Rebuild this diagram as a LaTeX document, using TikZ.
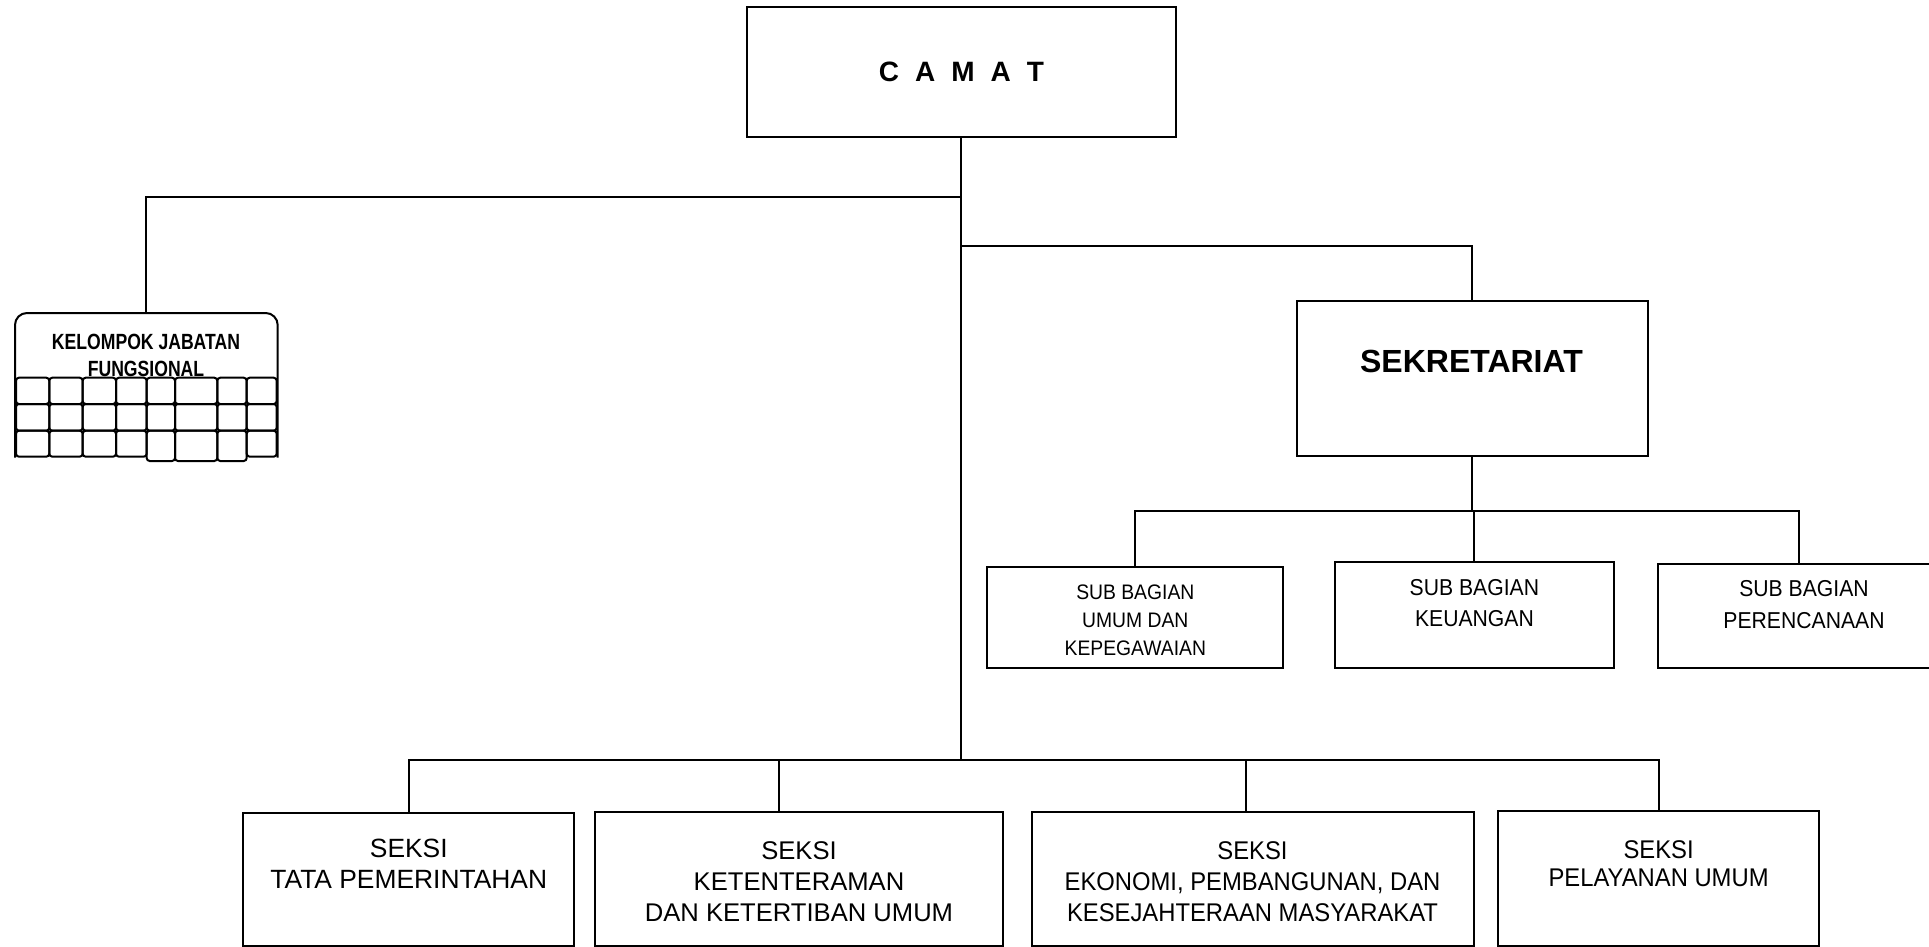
\documentclass[tikz,border=0pt]{standalone}
\usepackage{fontspec}
\setmainfont{Liberation Sans}
\newfontfamily\narrowfont[FakeStretch=0.93]{Liberation Sans}
\newfontfamily\subfont[FakeStretch=0.92]{Liberation Sans}
\newfontfamily\kjffont[FakeStretch=0.8]{Liberation Sans}
\usetikzlibrary{fit,calc}
\begin{document}
\begin{tikzpicture}[x=0.5pt,y=-0.5pt,
  line width=1pt,
  box/.style={draw, rectangle, inner sep=0pt, line width=1pt},
  txt/.style={align=center, inner sep=0pt},
  seksitxt/.style={txt, font=\fontsize{12.8}{15.5}\selectfont},
  seksinarrow/.style={txt, font=\narrowfont\fontsize{12.8}{15.5}\selectfont},
  subtxt/.style={txt, font=\subfont\fontsize{10.5}{14}\selectfont},
  subbig/.style={txt, font=\subfont\fontsize{11.5}{15.5}\selectfont},
  cell/.style={draw, rounded corners=1.5pt, line width=1pt}]

\useasboundingbox (0,0) rectangle (1929,947);
\clip (0,0) rectangle (1929,947);

% ---- CAMAT ----
\node[box, fit={(746.7,7) (1176,137)}] (camat) {};
\node[font=\bfseries\fontsize{14}{17}\selectfont, inner sep=0pt] (camatT) at (961.5,71.5)
  {C\hspace{8pt}A\hspace{8pt}M\hspace{8pt}A\hspace{8pt}T};

% ---- SEKRETARIAT ----
\node[box, fit={(1296.7,300.7) (1648,456)}] (sek) {};
\node[font=\bfseries\fontsize{16}{19}\selectfont, inner sep=0pt] (sekT) at (1471.5,361.7) {SEKRETARIAT};

% ---- KELOMPOK JABATAN FUNGSIONAL ----
\node[inner sep=0pt, fit={(16,314) (276.7,456.7)}] (kjf) {};
\draw[rounded corners=6pt] (kjf.south west) -- (kjf.north west) -- (kjf.north east) -- (kjf.south east);
\node[txt, font=\kjffont\bfseries\fontsize{11}{13.5}\selectfont] (kjfT) at (146,355.3)
  {KELOMPOK JABATAN\\FUNGSIONAL};
\foreach \a/\b/\c in {16/49.3/456.7, 49.3/82.7/456.7, 82.7/116/456.7, 116/146.7/456.7,
                      146.7/175/461, 175/217.3/461, 217.3/246.7/461, 246.7/276.7/456.7} {
  \path[cell] (\a,377.7) rectangle (\b,404);
  \path[cell] (\a,404) rectangle (\b,430.7);
  \path[cell] (\a,430.7) rectangle (\b,\c);
}

% ---- SUB BAGIAN ----
\node[box, fit={(987.3,566.7) (1283.3,668.3)}] (sb1) {};
\node[box, fit={(1334.8,561.7) (1614,668.3)}] (sb2) {};
\node[box, fit={(1658.3,564) (1940,668.3)}] (sb3) {};
\node[subtxt] (sb1T) at (1135.3,620.3) {SUB BAGIAN\\UMUM DAN\\KEPEGAWAIAN};
\node[subbig] (sb2T) at (1474.4,603.5) {SUB BAGIAN\\KEUANGAN};
\node[subbig, font=\subfont\fontsize{11.5}{16}\selectfont] (sb3T) at (1804,605) {SUB BAGIAN\\PERENCANAAN};

% ---- SEKSI ----
\node[box, fit={(243.3,812.7) (574.3,945.7)}] (sA) {};
\node[box, fit={(595.4,812) (1002.6,945.7)}] (sB) {};
\node[box, fit={(1031.6,811.7) (1474,945.7)}] (sC) {};
\node[box, fit={(1498.3,811) (1819,945.7)}] (sD) {};
\node[seksitxt, font=\fontsize{13.2}{15.5}\selectfont] (sAT) at (408.8,863.5) {SEKSI\\TATA PEMERINTAHAN};
\node[seksitxt] (sBT) at (799,882) {SEKSI\\KETENTERAMAN\\DAN KETERTIBAN UMUM};
\node[seksinarrow] (sCT) at (1252.5,882) {SEKSI\\EKONOMI, PEMBANGUNAN, DAN\\KESEJAHTERAAN MASYARAKAT};
\node[seksinarrow, font=\narrowfont\fontsize{12.8}{14}\selectfont] (sDT) at (1658.6,864) {SEKSI\\PELAYANAN UMUM};

% ---- connector levels ----
\coordinate (yK) at (0,197.5);
\coordinate (yS) at (0,246);
\coordinate (ySub) at (0,510.5);
\coordinate (ySek) at (0,759.5);
\coordinate (cB) at (778.7,812);
\coordinate (cC) at (1246,811.7);
\coordinate (c3) at (1799,564);

% trunk
\draw (camat.south) -- (camat.south |- ySek);
% to kelompok jabatan fungsional
\draw (camat.south |- yK) -| (kjf.north);
% to sekretariat
\draw (camat.south |- yS) -| (sek.north);
% sekretariat to sub bagian
\draw (sek.south) -- (sek.south |- ySub);
\draw (sb1.north) |- (c3 |- ySub) -- (c3);
\draw (sb2.north) -- (sb2.north |- ySub);
% seksi bar
\draw (sA.north) |- (sD.north |- ySek) -- (sD.north);
\draw (cB) -- (cB |- ySek);
\draw (cC) -- (cC |- ySek);
\end{tikzpicture}
\end{document}
